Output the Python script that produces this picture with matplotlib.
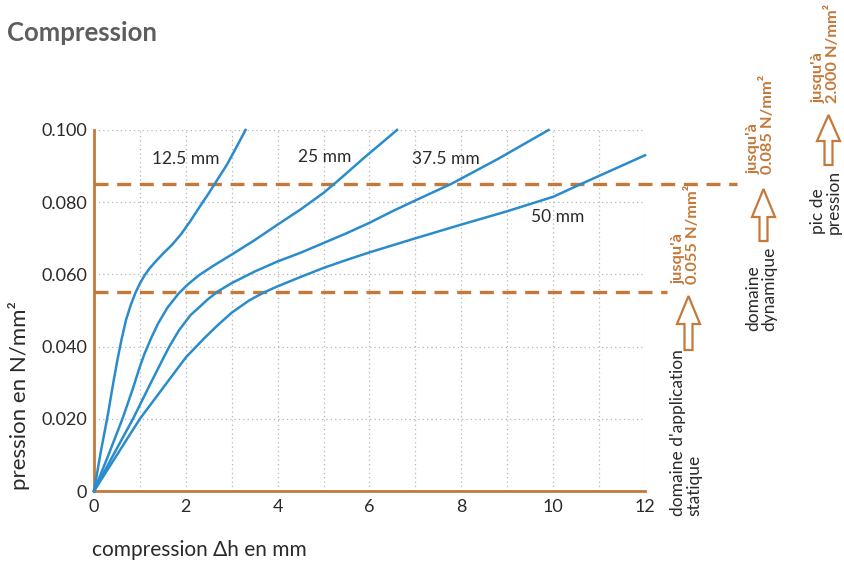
import matplotlib
matplotlib.use("Agg")
import matplotlib.pyplot as plt
from matplotlib.patches import Polygon
from matplotlib.lines import Line2D

plt.rcParams['font.family'] = ['Lato', 'DejaVu Sans']

# ---------------- data ----------------
x_125 = [0, 0.15, 0.3, 0.42, 0.51, 0.6, 0.7, 0.8, 0.9, 1.0, 1.1, 1.2, 1.35, 1.5, 1.7,
         1.9, 2.1, 2.3, 2.5, 2.69, 2.9, 3.1, 3.3]
y_125 = [0, 0.011, 0.021, 0.030, 0.0363, 0.042, 0.0475, 0.0515, 0.0548, 0.0575, 0.0597,
         0.0615, 0.0637, 0.0657, 0.0682, 0.0712, 0.0748, 0.0787, 0.0825, 0.0863, 0.0905,
         0.0952, 0.100]

x_25 = [0, 0.3, 0.62, 0.85, 1.0, 1.1, 1.25, 1.4, 1.6, 1.85, 2.05, 2.29, 2.6, 3.0, 3.5,
        4.0, 4.5, 5.0, 5.3, 5.9, 6.6]
y_25 = [0, 0.0095, 0.020, 0.0285, 0.0345, 0.038, 0.0425, 0.0465, 0.0508, 0.0548, 0.0573,
        0.0598, 0.0624, 0.0655, 0.0695, 0.0738, 0.078, 0.0826, 0.0858, 0.0925, 0.100]

x_375 = [0, 0.4, 0.85, 1.2, 1.49, 1.64, 1.85, 2.1, 2.3, 2.47, 2.7, 3.0, 3.5, 4.0, 4.5,
         5.0, 5.5, 6.0, 6.5, 7.0, 7.8, 8.8, 9.9]
y_375 = [0, 0.0095, 0.020, 0.029, 0.0363, 0.040, 0.0445, 0.0487, 0.051, 0.053, 0.0553,
         0.0576, 0.0608, 0.0636, 0.066, 0.0687, 0.0714, 0.0743, 0.0775, 0.0805, 0.0852,
         0.092, 0.100]

x_50 = [0, 0.5, 1.0, 1.5, 2.0, 2.4, 2.7, 3.0, 3.38, 3.7, 4.0, 4.5, 5.0, 5.5,
        6.0, 7.0, 8.0, 9.0, 10.0, 10.6, 11.3, 12.0]
y_50 = [0, 0.010, 0.020, 0.0285, 0.037, 0.0423, 0.046, 0.0494, 0.0528, 0.055,
        0.0567, 0.0593, 0.0618, 0.064, 0.0661, 0.070, 0.0738, 0.0775, 0.0815, 0.085,
        0.089, 0.093]

series_labels = ["12.5 mm", "25 mm", "37.5 mm", "50 mm"]
label_pos = [(1.27, 0.0919), (4.44, 0.0924), (6.92, 0.0919), (9.51, 0.0760)]

thresholds = [0.055, 0.085]
threshold_texts = ["jusqu'à\n0.055 N/mm²", "jusqu'à\n0.085 N/mm²", "jusqu'à\n2.000 N/mm²"]
domain_texts = ["domaine d'application\nstatique", "domaine\ndynamique", "pic de\npression"]

x_ticks = [0, 2, 4, 6, 8, 10, 12]
y_ticks = [0, 0.02, 0.04, 0.06, 0.08, 0.10]
y_ticklabels = ["0", "0.020", "0.040", "0.060", "0.080", "0.100"]

# ---------------- style ----------------
W, H = 845, 567
ORANGE = '#c4793a'
BLUE = '#2a8ccb'
GRAY_T = '#5e5e5e'
TXT = '#2a2a2a'

fig = plt.figure(figsize=(W / 100, H / 100), dpi=100)
ax = fig.add_axes([94 / W, 1 - 491 / H, 551 / W, 361 / H])

ax.set_xlim(0, 12)
ax.set_ylim(0, 0.1)

for sp in ['top', 'right']:
    ax.spines[sp].set_visible(False)
for sp in ['left', 'bottom']:
    ax.spines[sp].set_color(ORANGE)
    ax.spines[sp].set_linewidth(2.0)

ax.set_xticks(x_ticks)
ax.set_xticks(range(0, 13), minor=True)
ax.set_yticks(y_ticks)
ax.set_yticklabels(y_ticklabels)
ax.tick_params(which='both', length=0, labelsize=13, colors=TXT)
ax.tick_params(axis='x', pad=6)
ax.tick_params(axis='y', pad=5)
ax.grid(True, which='both', axis='x', color='#b5b5b5', linestyle=(0, (1, 2.5)), linewidth=0.9)
ax.grid(True, which='major', axis='y', color='#b5b5b5', linestyle=(0, (1, 2.5)), linewidth=0.9)
ax.set_axisbelow(True)

# threshold dashed lines (extend beyond axes)
ext = [1.04, 1.167]
for t, e in zip(thresholds, ext):
    ax.add_line(Line2D([0, e], [t, t], transform=ax.get_yaxis_transform(),
                       color=ORANGE, linewidth=2.4, dashes=(4.2, 2.6),
                       clip_on=False, zorder=2))

# curves
for xs, ys in [(x_125, y_125), (x_25, y_25), (x_375, y_375), (x_50, y_50)]:
    ax.plot(xs, ys, color=BLUE, linewidth=1.8, zorder=3, solid_joinstyle='round',
            clip_on=False)

for lab, (lx, ly) in zip(series_labels, label_pos):
    ax.text(lx, ly, lab, fontsize=12.5, color=TXT, ha='left', va='center')

# axis labels
ax.set_ylabel("pression en N/mm²", fontsize=16, color=TXT)
ax.yaxis.set_label_coords((30 - 94) / 551, (491 - 396) / 361)
ax.set_xlabel("compression Δh en mm", fontsize=15, color=TXT, ha='left', va='center')
ax.xaxis.set_label_coords((92 - 94) / 551, (491 - 550) / 361)

# title
fig.text(7 / W, 1 - 33 / H, "Compression", fontsize=18.5, fontweight='bold',
         color=GRAY_T, ha='left', va='center')


def fp(xp, yp):
    return (xp / W, 1 - yp / H)


def hollow_arrow(cx, tip, hb, end):
    hw, sw = 11.5, 4.0
    pts = [(cx, tip), (cx + hw, hb), (cx + sw, hb), (cx + sw, end),
           (cx - sw, end), (cx - sw, hb), (cx - hw, hb)]
    poly = Polygon([fp(*p) for p in pts], closed=True, transform=fig.transFigure,
                   facecolor='white', edgecolor=ORANGE, linewidth=1.6, clip_on=False)
    fig.add_artist(poly)


# right annotations: (center x, arrow tip, head base, shaft end, orange text bottom,
# domain text bottom, text center x)
groups = [
    (688.5, 296, 324, 350, 284, 516, 686),
    (763.5, 189, 217, 241, 174, 331, 761),
    (828.5, 115, 141, 165, 103, 234, 826),
]
for (cx, tip, hb, end, tb, db, tx), ttxt, dtxt in zip(groups, threshold_texts, domain_texts):
    hollow_arrow(cx, tip, hb, end)
    fig.text(*fp(tx, tb), ttxt, rotation=90, fontsize=11.8, fontweight='bold',
             color=ORANGE, ha='center', va='bottom', multialignment='left',
             linespacing=1.0)
    fig.text(*fp(tx, db), dtxt, rotation=90, fontsize=12.5, color=TXT,
             ha='center', va='bottom', multialignment='left', linespacing=1.0)

fig.savefig("out.png", dpi=100)
